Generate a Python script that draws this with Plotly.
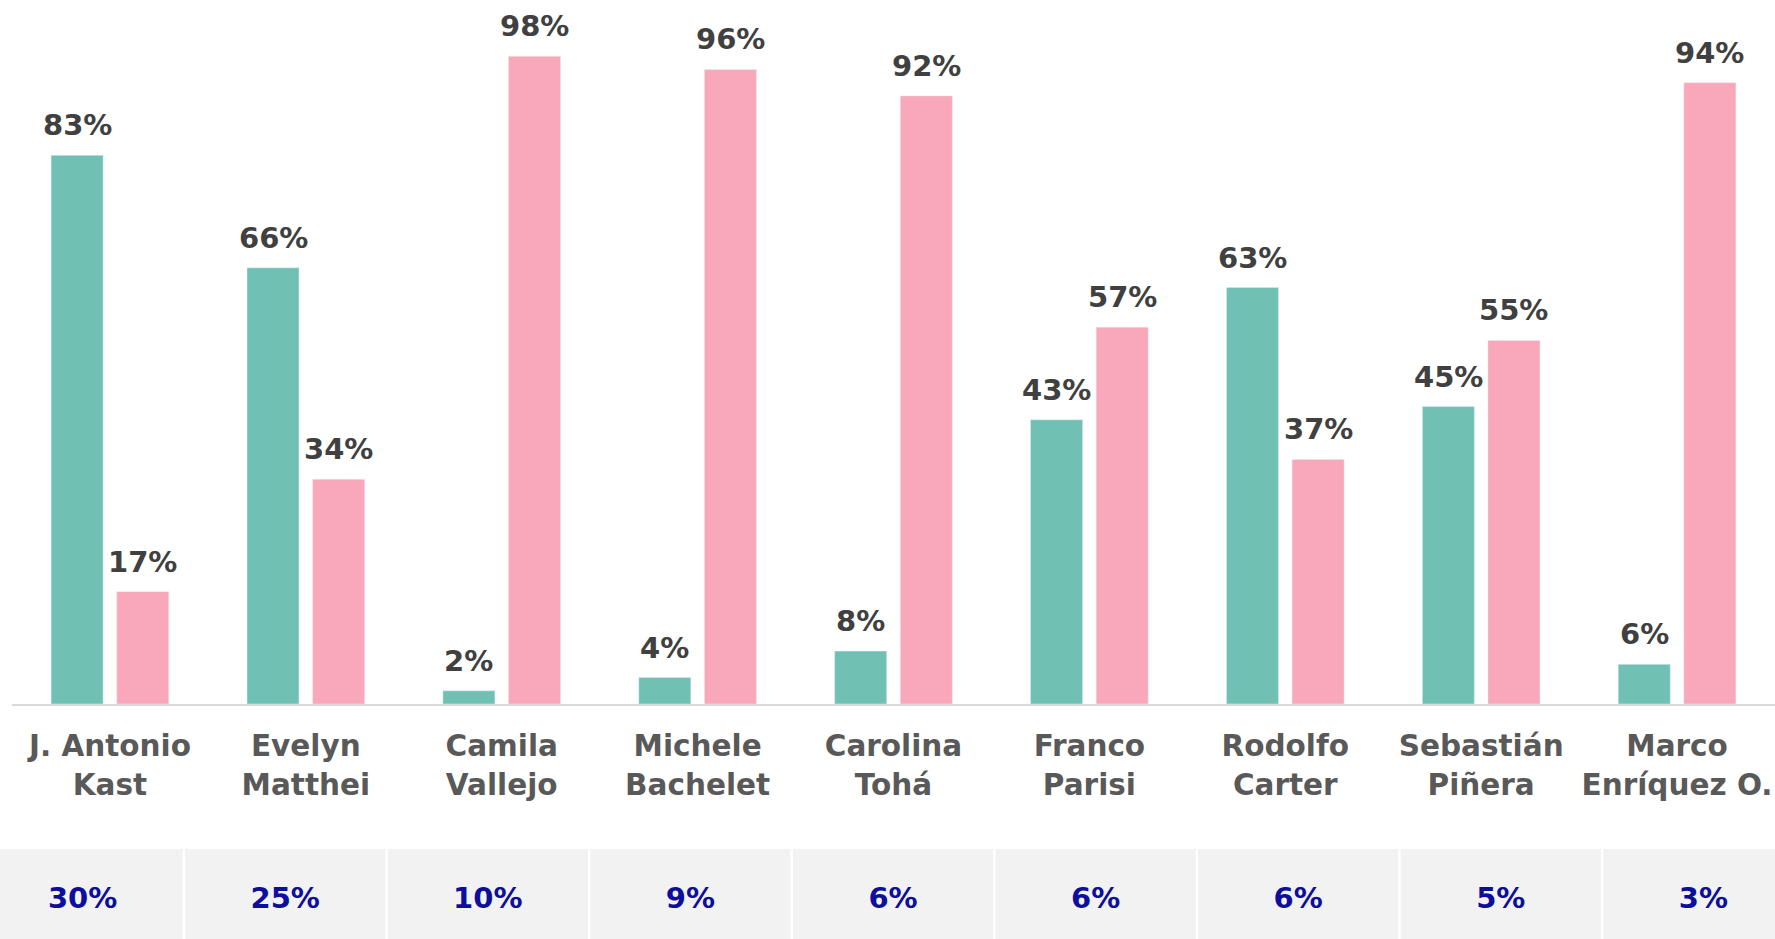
import plotly.graph_objects as go

# ---- data ----
candidates = ["J. Antonio<br>Kast", "Evelyn<br>Matthei", "Camila<br>Vallejo",
              "Michele<br>Bachelet", "Carolina<br>Tohá", "Franco<br>Parisi",
              "Rodolfo<br>Carter", "Sebastián<br>Piñera", "Marco<br>Enríquez O."]
positive = [83, 66, 2, 4, 8, 43, 63, 45, 6]
negative = [17, 34, 98, 96, 92, 57, 37, 55, 94]
vote_share = [30, 25, 10, 9, 6, 6, 6, 5, 3]

# ---- layout constants ----
W, H = 1775, 939
TEAL = "#70c1b3"
PINK = "#f8a8ba"
LABEL = "#404040"
TICK = "#595959"
BLUE = "#0e0e9c"
FONT = "DejaVu Sans, sans-serif"

plot_left = 12
base_y = 704          # pixel y of the baseline
px_per_pct = 6.61
band_top = 849        # top of the grey row
bargap = 0.33
bargroupgap = 0.207

ymax = base_y / px_per_pct
main_dom_bottom = (H - base_y) / H

cat_px = (W - plot_left) / len(candidates)
slot_px = cat_px * (1 - bargap) / 2
shift = slot_px / 2

fig = go.Figure()
fig.add_trace(go.Bar(x=candidates, y=positive, marker_color=TEAL, name="pos",
                     hoverinfo="skip"))
fig.add_trace(go.Bar(x=candidates, y=negative, marker_color=PINK, name="neg",
                     hoverinfo="skip"))

annotations = []
for series, dx in ((positive, -shift), (negative, shift)):
    for c, v in zip(candidates, series):
        annotations.append(dict(x=c, y=v, xref="x", yref="y", text=f"<b>{v}%</b>",
                                showarrow=False, yanchor="bottom", xanchor="center",
                                xshift=dx, yshift=11,
                                font=dict(family=FONT, size=29, color=LABEL)))

# grey row of vote shares, one cell per candidate
cell_px = 202.6
first_center = 82.6
x0 = -first_center / cell_px
x1 = x0 + W / cell_px
cell_base = -0.08     # cell extends slightly below the page so its text sits a bit lower
fig.add_trace(go.Bar(x=list(range(len(vote_share))),
                     y=[1 - cell_base] * len(vote_share), base=cell_base,
                     xaxis="x2", yaxis="y2", width=0.988,
                     marker=dict(color="#f2f2f2", line=dict(width=0)),
                     text=[f"<b>{v}%</b>" for v in vote_share],
                     textposition="inside", insidetextanchor="middle",
                     constraintext="none",
                     textfont=dict(family=FONT, size=29, color=BLUE),
                     hoverinfo="skip"))

fig.update_layout(
    width=W, height=H, autosize=False,
    margin=dict(l=0, r=0, t=0, b=0),
    paper_bgcolor="white", plot_bgcolor="white",
    barmode="group", bargap=bargap, bargroupgap=bargroupgap,
    showlegend=False,
    annotations=annotations,
    xaxis=dict(domain=[plot_left / W, 1], showgrid=False, zeroline=False,
               showline=True, linecolor="#d9d9d9", linewidth=2,
               ticks="", ticklabelstandoff=15,
               tickfont=dict(family=FONT, size=29.5, color=TICK),
               tickvals=candidates,
               ticktext=[f"<b>{c}</b>" for c in candidates],
               fixedrange=True),
    yaxis=dict(domain=[main_dom_bottom, 1], range=[0, ymax], visible=False,
               fixedrange=True),
    xaxis2=dict(domain=[0, 1], anchor="y2", range=[x0, x1], visible=False,
                fixedrange=True),
    yaxis2=dict(domain=[0, (H - band_top) / H], anchor="x2", range=[0, 1],
                visible=False, fixedrange=True),
    font=dict(family=FONT),
)

fig.write_html("out.html", config={"displayModeBar": False},
               post_script="document.body.style.margin='0';document.body.style.overflow='hidden';")
